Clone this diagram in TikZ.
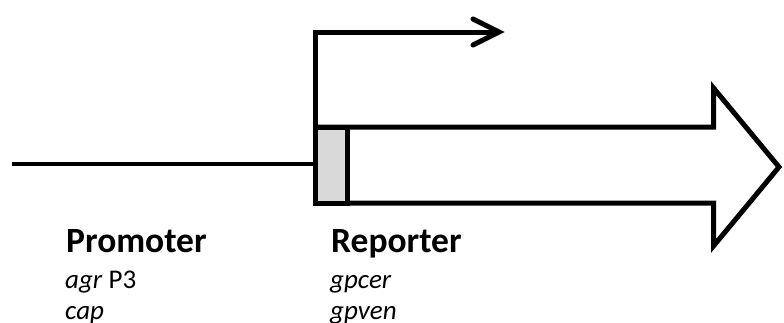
\documentclass[tikz,border=0pt]{standalone}
\usepackage{fontspec}
\setmainfont{Carlito}
\usetikzlibrary{calc}
\begin{document}
\begin{tikzpicture}[x=1pt,y=-1pt,
  heading/.style={anchor=base west,inner sep=0pt,font=\fontsize{35.5}{42}\selectfont\bfseries},
  gene/.style={anchor=base west,inner sep=0pt,font=\fontsize{27}{32}\selectfont},
  thick line/.style={line width=5pt},
  dna/.style={line width=4.5pt},
  startbox/.style={line width=5pt,fill=black!15}]
\useasboundingbox (0,0) rectangle (784,322);

% promoter DNA
\coordinate (dnaL) at (12,164);
\coordinate (dnaR) at (313,164);
\draw[dna] (dnaL) -- (dnaR);

% reporter gene as a block arrow
\draw[thick line,fill=white]
  (315.5,127) -- (713.5,127) -- (713.5,88) -- (779,167)
  -- (713.5,246) -- (713.5,203) -- (315.5,203) -- cycle;

% start codon box
\draw[startbox] (315.5,127) rectangle (347,203);

% transcription start arrow
\coordinate (tss) at (315.5,124.5);
\coordinate (bend) at (315.5,32);
\coordinate (tip) at (499,32);
\draw[thick line] (tss) -- (bend) -- (tip);
\draw[thick line,line cap=round,line join=miter]
  ($(tip)+(-26,-13)$) -- (tip) -- ($(tip)+(-26,13)$);

% labels
\node[heading] (prom) at (66,252) {Promoter};
\node[gene] (agr) at (65,288) {\textit{agr} P3};
\node[gene] (cap) at (65,319) {\textit{cap}};
\node[heading] (rep) at (331,252) {Reporter};
\node[gene] (gpcer) at (330,288) {\textit{gpcer}};
\node[gene] (gpven) at (330,319) {\textit{gpven}};
\end{tikzpicture}
\end{document}
